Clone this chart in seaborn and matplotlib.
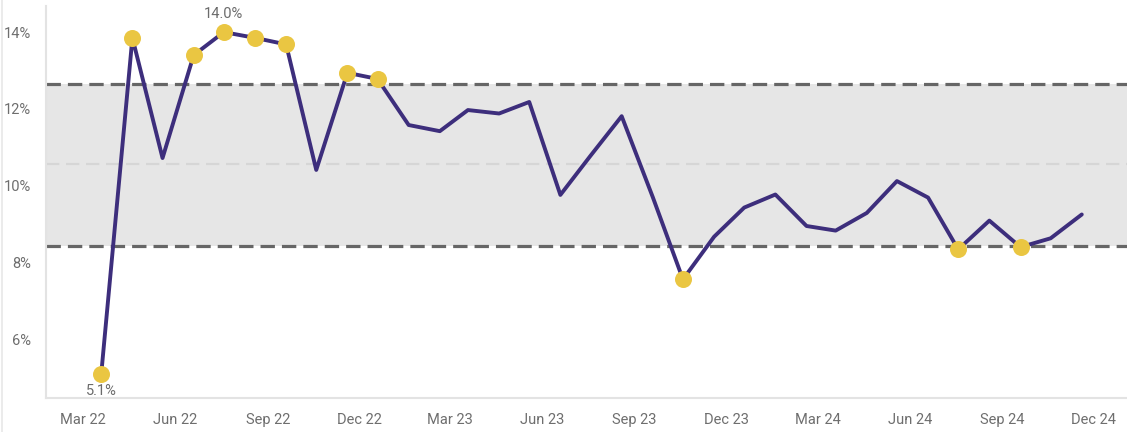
import matplotlib
matplotlib.use("Agg")
import matplotlib.pyplot as plt
import matplotlib.dates as mdates
import seaborn as sns
import pandas as pd
import numpy as np

# ---- data ----
start_month = "2022-03-01"
values = [5.1, 13.85, 10.72, 13.4, 14.0, 13.85, 13.68, 10.41, 12.94, 12.78,
          11.58, 11.42, 11.97, 11.88, 12.18, 9.76, 10.78, 11.81, 9.7, 7.56,
          8.67, 9.43, 9.77, 8.95, 8.83, 9.29, 10.12, 9.69, 8.34, 9.09,
          8.40, 8.63, 9.25]
upper_limit = 12.64
center_line = 10.56
lower_limit = 8.43
y_ticks = [6, 8, 10, 12, 14]
x_tick_labels = ["Mar 22", "Jun 22", "Sep 22", "Dec 22", "Mar 23", "Jun 23",
                 "Sep 23", "Dec 23", "Mar 24", "Jun 24", "Sep 24", "Dec 24"]

months = pd.date_range(start_month, periods=len(values), freq="MS")
dates = months + pd.Timedelta(days=18)
df = pd.DataFrame({"date": dates, "value": values})
df["out"] = (df["value"] > upper_limit) | (df["value"] < lower_limit)

tick_dates = pd.date_range(start_month, periods=len(x_tick_labels), freq="3MS")

sns.set_theme(style="white")
plt.rcParams["font.family"] = ["Roboto", "DejaVu Sans"]

fig = plt.figure(figsize=(11.27, 4.32), dpi=100)
ax = fig.add_axes([46 / 1127, 34 / 432, 1 - 46 / 1127, (398 - 6) / 432])

x0 = mdates.date2num(pd.Timestamp("2022-01-23"))
x1 = mdates.date2num(pd.Timestamp("2025-01-03"))

ax.axhspan(lower_limit, upper_limit, color="#E6E6E6", zorder=0, lw=0)
ax.axhline(center_line, color="#D6D6D6", lw=1.6, dashes=(6, 3), zorder=1)
ax.axhline(upper_limit, color="#666666", lw=2.3, dashes=(4.5, 2.2), zorder=1)
ax.axhline(lower_limit, color="#666666", lw=2.3, dashes=(4.5, 2.2), zorder=1)

purple = "#3D2E7C"
yellow = "#EAC642"
sns.lineplot(data=df, x="date", y="value", ax=ax, color=purple, lw=2.8,
             zorder=3, legend=False)
sns.scatterplot(data=df[df["out"]], x="date", y="value", ax=ax, color=yellow,
                s=150, linewidth=0, zorder=4, legend=False)

imax = int(np.argmax(values))
imin = int(np.argmin(values))
ax.annotate(f"{values[imax]:.1f}%", (dates[imax], values[imax]), xytext=(0, 8),
            textcoords="offset points", ha="center", va="bottom",
            fontsize=10.5, color="#6B6B6B", zorder=5)
ax.annotate(f"{values[imin]:.1f}%", (dates[imin], values[imin]), xytext=(0, -7),
            textcoords="offset points", ha="center", va="top",
            fontsize=10.5, color="#6B6B6B", zorder=5)

ax.set_xlim(x0, x1)
ax.set_ylim(4.47, 14.68)
ax.set_yticks(y_ticks)
ax.set_yticklabels([f"{t}%" for t in y_ticks])
ax.set_xticks(tick_dates)
ax.set_xticklabels(x_tick_labels)
ax.tick_params(axis="both", length=0, labelsize=10.5, labelcolor="#6E6E6E")
ax.tick_params(axis="y", pad=11)
ax.tick_params(axis="x", pad=11)
ax.set_xlabel("")
ax.set_ylabel("")
ax.grid(False)
for s in ["top", "right"]:
    ax.spines[s].set_visible(False)
for s in ["left", "bottom"]:
    ax.spines[s].set_color("#E3E3E3")
    ax.spines[s].set_linewidth(1.5)

fig.add_artist(plt.Line2D([1.5 / 1127, 1.5 / 1127], [0, 1], color="#E8E8E8", lw=1.2))

fig.savefig("out.png", dpi=100)
